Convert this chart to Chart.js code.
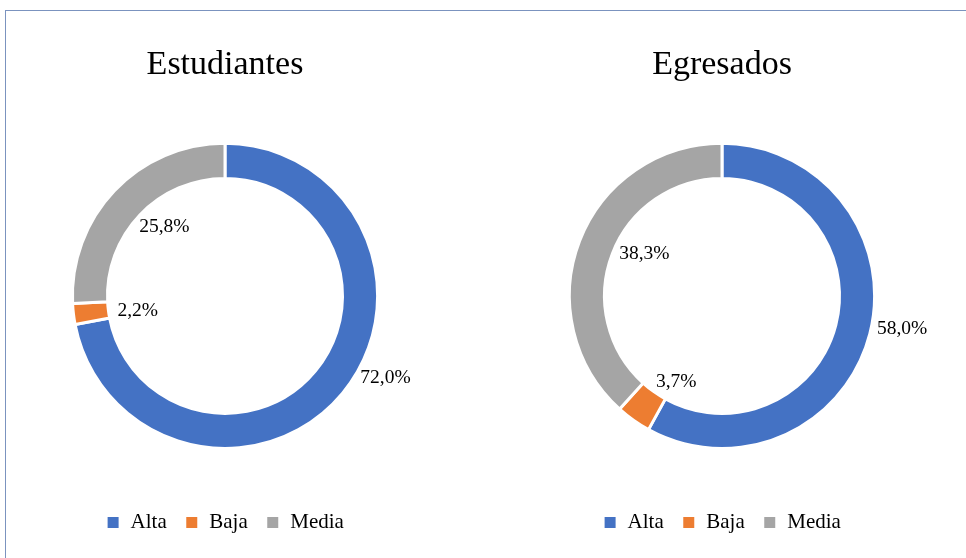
<!DOCTYPE html>
<html>
<head>
<meta charset="utf-8">
<script src="https://cdn.jsdelivr.net/npm/chart.js@4"></script>
<style>
  html, body { margin: 0; padding: 0; background: #fff; }
  body { width: 966px; height: 558px; position: relative; overflow: hidden; }
  #frame { position: absolute; left: 5px; top: 10px; width: 1000px; height: 600px; border: 1px solid #7b93bf; }
  .box { position: absolute; top: 0; width: 450px; height: 558px; }
  #left { left: 0; }
  #right { left: 497px; }
</style>
</head>
<body>
<div id="frame"></div>
<div class="box" id="left"><canvas id="chartLeft"></canvas></div>
<div class="box" id="right"><canvas id="chartRight"></canvas></div>
<script>
var categories = ['Alta', 'Baja', 'Media'];
var estudiantesValues = [72.0, 2.2, 25.8];
var egresadosValues = [58.0, 3.7, 38.3];
var sliceColors = ['#4472c4', '#ed7d31', '#a5a5a5'];

// where each percentage label sits: angle shift (deg) from the slice middle, distance as share of radius
var estudiantesLabelShift = [-12.6, -3, 5];
var estudiantesLabelDist = [1.18, 0.58, 0.6];
var egresadosLabelShift = [-4, -7.5, 7.6];
var egresadosLabelDist = [1.2, 0.64, 0.58];

var serif = "'Liberation Serif', 'DejaVu Serif', serif";
Chart.defaults.font.family = serif;

var pctLabels = {
  id: 'pctLabels',
  afterDatasetsDraw: function(chart, args, opts) {
    var ctx = chart.ctx;
    var meta = chart.getDatasetMeta(0);
    var values = chart.data.datasets[0].data;
    ctx.save();
    ctx.font = '19.5px ' + serif;
    ctx.fillStyle = '#000';
    ctx.textAlign = 'center';
    ctx.textBaseline = 'middle';
    meta.data.forEach(function(arc, i) {
      var p = arc.getProps(['x', 'y', 'startAngle', 'endAngle', 'outerRadius'], true);
      var a = (p.startAngle + p.endAngle) / 2 + opts.shift[i] * Math.PI / 180;
      var r = p.outerRadius * opts.dist[i];
      var txt = values[i].toFixed(1).replace('.', ',') + '%';
      ctx.fillText(txt, p.x + Math.cos(a) * r, p.y + Math.sin(a) * r);
    });
    ctx.restore();
  }
};

function makeDoughnut(id, title, values, shift, dist) {
  return new Chart(document.getElementById(id), {
    type: 'doughnut',
    data: {
      labels: categories,
      datasets: [{
        data: values,
        backgroundColor: sliceColors,
        borderColor: '#ffffff',
        borderWidth: 3
      }]
    },
    options: {
      responsive: true,
      maintainAspectRatio: false,
      animation: false,
      cutout: '77%',
      layout: { padding: { bottom: 15 } },
      plugins: {
        title: {
          display: true,
          text: title,
          color: '#000',
          font: { family: serif, size: 34, weight: 'normal' },
          padding: { top: 45, bottom: 56 }
        },
        legend: {
          position: 'bottom',
          title: { display: true, text: '', font: { size: 10 }, padding: { top: 32, bottom: 0 } },
          labels: {
            color: '#000',
            font: { family: serif, size: 21 },
            boxWidth: 14,
            boxHeight: 14,
            padding: 18
          }
        },
        tooltip: { enabled: false },
        pctLabels: { shift: shift, dist: dist }
      }
    },
    plugins: [pctLabels]
  });
}

makeDoughnut('chartLeft', 'Estudiantes', estudiantesValues, estudiantesLabelShift, estudiantesLabelDist);
makeDoughnut('chartRight', 'Egresados', egresadosValues, egresadosLabelShift, egresadosLabelDist);
</script>
</body>
</html>
